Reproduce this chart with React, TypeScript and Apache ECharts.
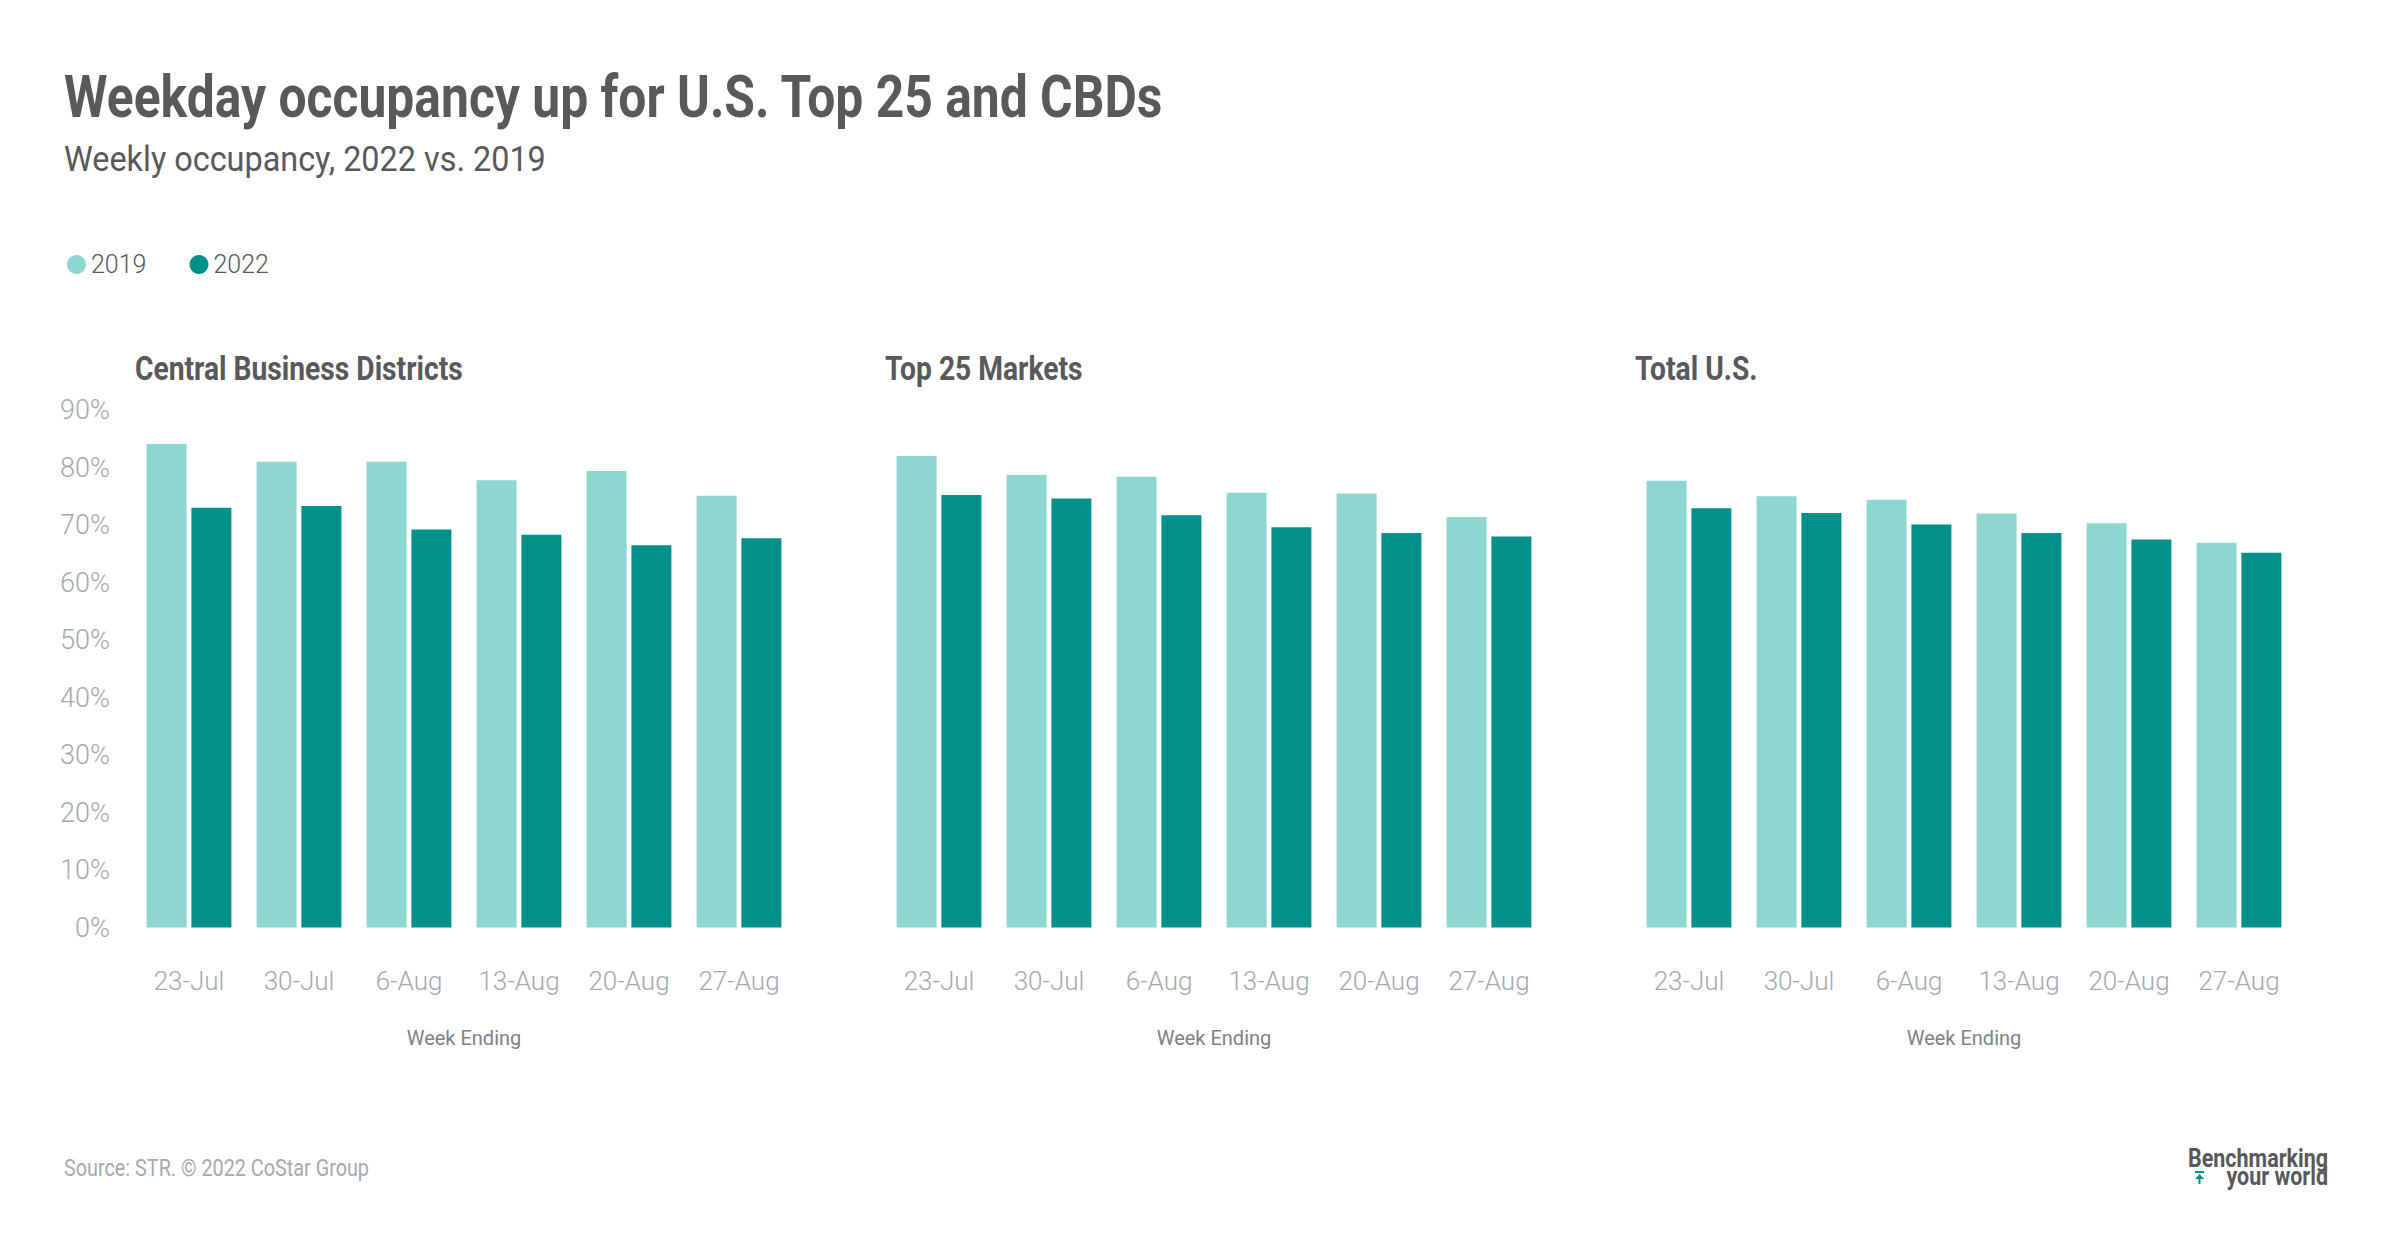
import React, { useEffect, useRef } from "react";
import * as echarts from "echarts";

const weeks = ["23-Jul", "30-Jul", "6-Aug", "13-Aug", "20-Aug", "27-Aug"];
const seriesNames = ["2019", "2022"];
const panelTitles = ["Central Business Districts", "Top 25 Markets", "Total U.S."];
const cbd2019 = [84.1, 81.0, 81.0, 77.8, 79.4, 75.1];
const cbd2022 = [73.0, 73.3, 69.2, 68.3, 66.5, 67.7];
const top2019 = [82.0, 78.7, 78.4, 75.6, 75.5, 71.4];
const top2022 = [75.2, 74.6, 71.7, 69.6, 68.6, 68.0];
const us2019 = [77.7, 75.0, 74.4, 72.0, 70.3, 66.9];
const us2022 = [72.9, 72.1, 70.1, 68.6, 67.5, 65.2];
const panelData = [
  [cbd2019, cbd2022],
  [top2019, top2022],
  [us2019, us2022],
];

const C2019 = "#8fd5d0";
const C2022 = "#02918a";
const DARK = "#58595b";
const LIGHT = "#a7a9ac";
const FONT = "Roboto, 'Noto Sans', sans-serif";
const COND = 0.83;

function ctext(x: number, y: number, text: string, size: number, weight: any, fill: string, align = "left", sx = COND) {
  return {
    type: "text",
    x,
    y,
    scaleX: sx,
    silent: true,
    style: {
      text,
      fontSize: size,
      fontWeight: weight,
      fontFamily: FONT,
      fill,
      align,
      verticalAlign: "middle",
    },
  };
}

export default function App() {
  const ref = useRef<HTMLDivElement>(null);
  useEffect(() => {
    document.body.style.margin = "0";
    const chart = echarts.init(ref.current!, null, { renderer: "svg" });
    const lefts = [134, 884, 1634];
    const grids = lefts.map((l) => ({ left: l, width: 660, top: 410, bottom: 328.4 }));
    const xAxes = lefts.map((_, i) => ({
      type: "category",
      gridIndex: i,
      data: weeks,
      axisLine: { show: false },
      axisTick: { show: false },
      axisLabel: { color: LIGHT, fontSize: 26, fontWeight: 300, fontFamily: FONT, margin: 40 },
      name: "Week Ending",
      nameLocation: "middle",
      nameGap: 100,
      nameTextStyle: { color: "#808285", fontSize: 20, fontFamily: FONT },
    }));
    const yAxes = lefts.map((_, i) => ({
      type: "value",
      gridIndex: i,
      min: 0,
      max: 90,
      interval: 10,
      splitLine: { show: false },
      axisLine: { show: false },
      axisTick: { show: false },
      axisLabel: {
        show: i === 0,
        formatter: "{value}%",
        color: LIGHT,
        fontSize: 27,
        fontWeight: 300,
        fontFamily: FONT,
        margin: 24,
      },
    }));
    const series: any[] = [];
    panelData.forEach((pair, i) => {
      pair.forEach((vals, j) => {
        series.push({
          type: "bar",
          name: seriesNames[j],
          xAxisIndex: i,
          yAxisIndex: i,
          data: vals,
          barWidth: 40,
          barGap: "12%",
          itemStyle: { color: j === 0 ? C2019 : C2022 },
        });
      });
    });
    const graphic: any[] = [
      ctext(64, 96, "Weekday occupancy up for U.S. Top 25 and CBDs", 60, "bold", DARK),
      ctext(64, 158, "Weekly occupancy, 2022 vs. 2019", 36, "normal", DARK, "left", 0.9),
      ...panelTitles.map((t, i) => ctext([135, 885, 1635][i], 369, t, 34, "bold", DARK)),
      ctext(64, 1168, "Source: STR. \u00a9 2022 CoStar Group", 24, "normal", LIGHT, "left", 0.825),
      ctext(2328, 1158, "Benchmarking", 25, "bold", DARK, "right", 0.86),
      ctext(2328, 1176, "your world", 25, "bold", DARK, "right", 0.86),
      { type: "rect", shape: { x: 2195, y: 1171, width: 9, height: 2 }, style: { fill: C2022 } },
      { type: "polygon", shape: { points: [[2199.5, 1174], [2195, 1179], [2204, 1179]] }, style: { fill: C2022 } },
      { type: "rect", shape: { x: 2198.5, y: 1178, width: 2, height: 6 }, style: { fill: C2022 } },
    ];
    chart.setOption({
      animation: false,
      backgroundColor: "#ffffff",
      legend: {
        data: seriesNames,
        left: 62,
        top: 247,
        icon: "circle",
        itemWidth: 19,
        itemHeight: 19,
        itemGap: 43,
        textStyle: { color: DARK, fontSize: 25, fontWeight: 300, fontFamily: FONT },
      },
      grid: grids,
      xAxis: xAxes,
      yAxis: yAxes,
      series,
      graphic,
    });
    return () => chart.dispose();
  }, []);
  return <div ref={ref} style={{ width: 2400, height: 1256 }} />;
}
